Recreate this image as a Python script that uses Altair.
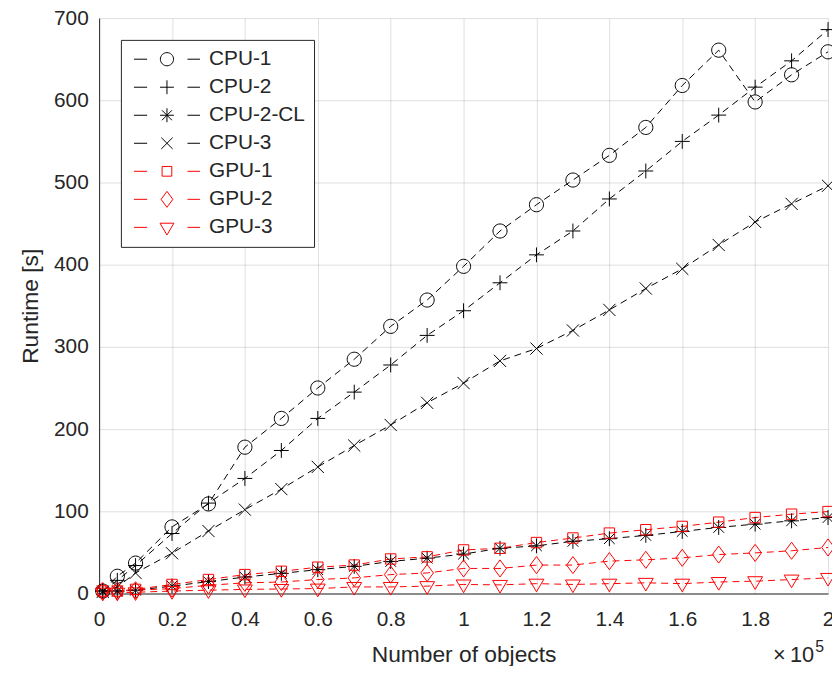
import altair as alt
import pandas as pd

# ---------------- data ----------------
x_vals = [0.01, 0.05, 0.1, 0.2, 0.3, 0.4, 0.5, 0.6, 0.7, 0.8, 0.9, 1.0,
          1.1, 1.2, 1.3, 1.4, 1.5, 1.6, 1.7, 1.8, 1.9, 2.0]
cpu1 = [3, 21, 37, 81, 109, 178, 213, 250, 285, 325, 357, 398,
        441, 473, 503, 533, 567, 618, 661, 598, 631, 659]
cpu2 = [3, 16, 34, 73, 110, 140, 174, 213, 245, 278, 314, 344,
        378, 412, 441, 480, 514, 550, 582, 616, 648, 686]
cpu2cl = [3, 3, 4, 9, 14.5, 20, 24.5, 29, 33, 39, 43, 48,
          55, 58, 63.5, 66.7, 70.7, 75.5, 80.4, 84.4, 88.4, 92.4]
cpu3 = [2, 8, 25, 49, 76, 102, 127, 154, 180, 205, 232, 256,
        283, 298, 320, 345, 371, 395, 424, 452, 474, 496]
gpu1 = [3, 3, 5, 11, 17, 23, 27, 32, 34.6, 42, 44.6, 53,
        55, 62, 67.5, 73.5, 77.6, 81.6, 86.8, 92.4, 96.5, 99.7]
gpu2 = [3, 3, 4, 6, 10, 13, 14, 17, 19, 23, 25, 30.5,
        30.5, 34.6, 34.6, 39.4, 41, 43.4, 47.4, 49.4, 52, 56]
gpu3 = [1, 1, 1.5, 3, 4, 5, 5.5, 6, 8, 8, 9, 11,
        10.5, 12, 11, 12, 13, 12, 14, 15, 17, 19]

series_names = ["CPU-1", "CPU-2", "CPU-2-CL", "CPU-3", "GPU-1", "GPU-2", "GPU-3"]
series_values = [cpu1, cpu2, cpu2cl, cpu3, gpu1, gpu2, gpu3]
series_colors = ["#000000", "#000000", "#000000", "#000000",
                 "#ff0000", "#ff0000", "#ff0000"]

x_ticks = [0, 0.2, 0.4, 0.6, 0.8, 1.0, 1.2, 1.4, 1.6, 1.8, 2.0]
y_ticks = [0, 100, 200, 300, 400, 500, 600, 700]

# ---------------- marker shapes (MATLAB style) ----------------
marker_paths = [
    "M0.95,0A0.95,0.95,0,1,1,-0.95,0A0.95,0.95,0,1,1,0.95,0Z",            # o
    "M-1,0L1,0M0,-1L0,1",                                                   # +
    "M-1,0L1,0M0,-1L0,1M-0.72,-0.72L0.72,0.72M-0.72,0.72L0.72,-0.72",       # *
    "M-0.82,-0.82L0.82,0.82M-0.82,0.82L0.82,-0.82",                         # x
    "M-0.7,-0.7L0.7,-0.7L0.7,0.7L-0.7,0.7Z",                                # s
    "M0,-1.15L0.85,0L0,1.15L-0.85,0Z",                                      # d
    "M-1,-0.6L1,-0.6L0,1.1Z",                                               # v
]
legend_dash = "M-4.76,0L-2.86,0M2.96,0L4.76,0"
legend_paths = [legend_dash + p for p in marker_paths]

rows = []
for name, vals in zip(series_names, series_values):
    for xv, yv in zip(x_vals, vals):
        rows.append({"x": xv, "y": yv, "series": name})
df = pd.DataFrame(rows)

FONT = "Liberation Sans"
TXT = "#262626"

x_enc = alt.X("x:Q", scale=alt.Scale(domain=[0, 2], nice=False, zero=False),
              axis=alt.Axis(values=x_ticks, format="~g", title="Number of objects",
                            labelPadding=15, titlePadding=15, labelFlush=False))
y_enc = alt.Y("y:Q", scale=alt.Scale(domain=[0, 700], nice=False),
              axis=alt.Axis(values=y_ticks, title="Runtime [s]",
                            labelPadding=11, titlePadding=11))

color_nolegend = alt.Color("series:N", scale=alt.Scale(domain=series_names, range=series_colors),
                           legend=None)

lines = alt.Chart(df).mark_line(strokeDash=[7, 5], strokeWidth=1).encode(
    x=x_enc, y=y_enc, color=color_nolegend, detail="series:N",
    order="x:Q",
)

points = alt.Chart(df).mark_point(filled=False, size=225, strokeWidth=1, opacity=1).encode(
    x=x_enc, y=y_enc, color=color_nolegend,
    shape=alt.Shape("series:N", scale=alt.Scale(domain=series_names, range=marker_paths),
                    legend=None),
)

legend_opts = dict(title=None, orient="none", legendX=22, legendY=22,
                   symbolSize=196, symbolStrokeWidth=1,
                   labelFont=FONT, labelFontSize=21, labelColor=TXT,
                   labelOffset=32, rowPadding=6.3, padding=9,
                   strokeColor=TXT, fillColor="white",
                   symbolOffset=27)

legend_layer = alt.Chart(df).transform_filter("datum.x < -1").mark_point(
    filled=False, size=196, strokeWidth=1, opacity=1
).encode(
    color=alt.Color("series:N", scale=alt.Scale(domain=series_names, range=series_colors),
                    legend=alt.Legend(**legend_opts)),
    shape=alt.Shape("series:N", scale=alt.Scale(domain=series_names, range=legend_paths),
                    legend=alt.Legend(**legend_opts)),
)

exp_df = pd.DataFrame({"t": ["×\u200910"], "s": ["5"]})
exp_main = alt.Chart(exp_df).mark_text(align="right", baseline="alphabetic",
                                       font=FONT, fontSize=22, color=TXT).encode(
    x=alt.value(722), y=alt.value(650), text="t:N")
exp_sup = alt.Chart(exp_df).mark_text(align="left", baseline="alphabetic",
                                      font=FONT, fontSize=16, color=TXT).encode(
    x=alt.value(723), y=alt.value(640), text="s:N")

chart = alt.layer(lines, points, legend_layer, exp_main, exp_sup).resolve_scale(
    color="independent", shape="independent"
).properties(
    width=736, height=581,
    autosize=alt.AutoSizeParams(type="none"),
    padding={"left": 92, "top": 7, "right": 4, "bottom": 70},
).configure_view(stroke=None).configure_axis(
    labelFont=FONT, titleFont=FONT, labelFontSize=21, titleFontSize=23,
    labelColor=TXT, titleColor=TXT, titleFontWeight="normal",
    domainColor=TXT, domainWidth=1, ticks=False, tickSize=0,
    gridColor=TXT, gridOpacity=0.15, gridWidth=1,
)

chart.save("out.html", embed_options={"renderer": "svg", "actions": False})
